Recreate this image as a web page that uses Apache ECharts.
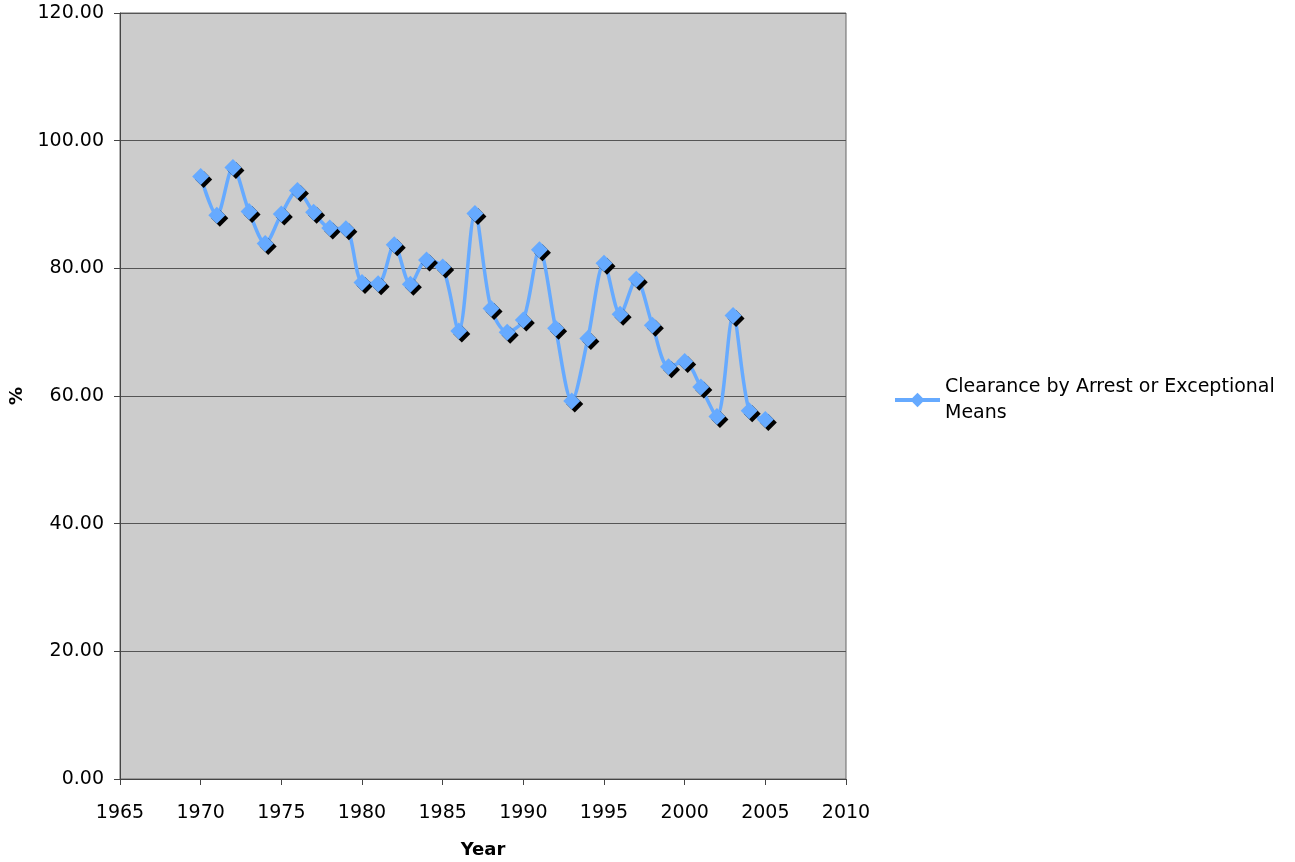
<!DOCTYPE html>
<html>
<head>
<meta charset="utf-8">
<script src="https://cdn.jsdelivr.net/npm/echarts@6/dist/echarts.min.js"></script>
<style>
html,body{margin:0;padding:0;background:#fff;}
#chart{width:1295px;height:862px;}
</style>
</head>
<body>
<div id="chart"></div>
<script>
var years = [1970,1971,1972,1973,1974,1975,1976,1977,1978,1979,1980,1981,1982,1983,1984,1985,1986,1987,1988,1989,1990,1991,1992,1993,1994,1995,1996,1997,1998,1999,2000,2001,2002,2003,2004,2005];
var clearance = [94.4,88.3,95.8,88.9,83.9,88.5,92.2,88.8,86.3,86.2,77.8,77.6,83.7,77.5,81.3,80.2,70.2,88.6,73.7,70.0,71.9,82.9,70.6,59.2,69.0,80.8,72.8,78.3,71.1,64.6,65.4,61.4,56.8,72.6,57.7,56.3];
var seriesName = 'Clearance by Arrest or Exceptional Means';
var yTicks = {min:0, max:120, interval:20};
var xTicks = {min:1965, max:2010, interval:5};

var font = 'DejaVu Sans';
var chart = echarts.init(document.getElementById('chart'));
chart.setOption({
  animation:false,
  textStyle:{fontFamily:font},
  grid:{left:120,right:449,top:13,bottom:83,show:true,backgroundColor:'#cccccc',borderColor:'#666',borderWidth:1,containLabel:false,outerBoundsMode:'none'},
  legend:{
    show:true, left:888, top:369, orient:'vertical',
    itemWidth:45, itemHeight:18, itemGap:6,
    textStyle:{fontFamily:font,fontSize:19,color:'#000',lineHeight:26},
    formatter:function(n){return 'Clearance by Arrest or Exceptional\nMeans';},
    data:[{name:seriesName,lineStyle:{width:4,color:'#66aaff'},itemStyle:{shadowBlur:0,shadowOffsetX:0,shadowOffsetY:0,shadowColor:'transparent'}}]
  },
  xAxis:{
    type:'value', min:xTicks.min, max:xTicks.max, interval:xTicks.interval,
    name:'Year', nameLocation:'middle', nameGap:62,
    nameTextStyle:{fontFamily:font,fontSize:18,fontWeight:'bold',color:'#000'},
    axisLine:{show:true,onZero:false,lineStyle:{color:'#444',width:1}},
    axisTick:{show:true,length:6,lineStyle:{color:'#444'}},
    axisLabel:{fontFamily:font,fontSize:19,color:'#000',margin:25,formatter:function(v){return String(v);}},
    splitLine:{show:false}
  },
  yAxis:{
    type:'value', min:yTicks.min, max:yTicks.max, interval:yTicks.interval,
    name:'%', nameLocation:'middle', nameGap:93, nameRotate:90,
    nameTextStyle:{fontFamily:font,fontSize:18,fontWeight:'bold',color:'#000'},
    axisLine:{show:true,lineStyle:{color:'#444',width:1}},
    axisTick:{show:true,length:6,lineStyle:{color:'#444'}},
    axisLabel:{fontFamily:font,fontSize:19,color:'#000',margin:16,formatter:function(v){return v.toFixed(2);}},
    splitLine:{show:true,lineStyle:{color:'#555',width:1}}
  },
  series:[{
    name:seriesName, type:'line', smooth:0.3,
    data:years.map(function(y,i){return [y,clearance[i]];}),
    symbol:'diamond', symbolSize:17,
    lineStyle:{color:'#66aaff',width:3.5},
    itemStyle:{color:'#66aaff',shadowColor:'#000',shadowBlur:0,shadowOffsetX:3,shadowOffsetY:3},
    emphasis:{disabled:true}
  }]
});
</script>
</body>
</html>
